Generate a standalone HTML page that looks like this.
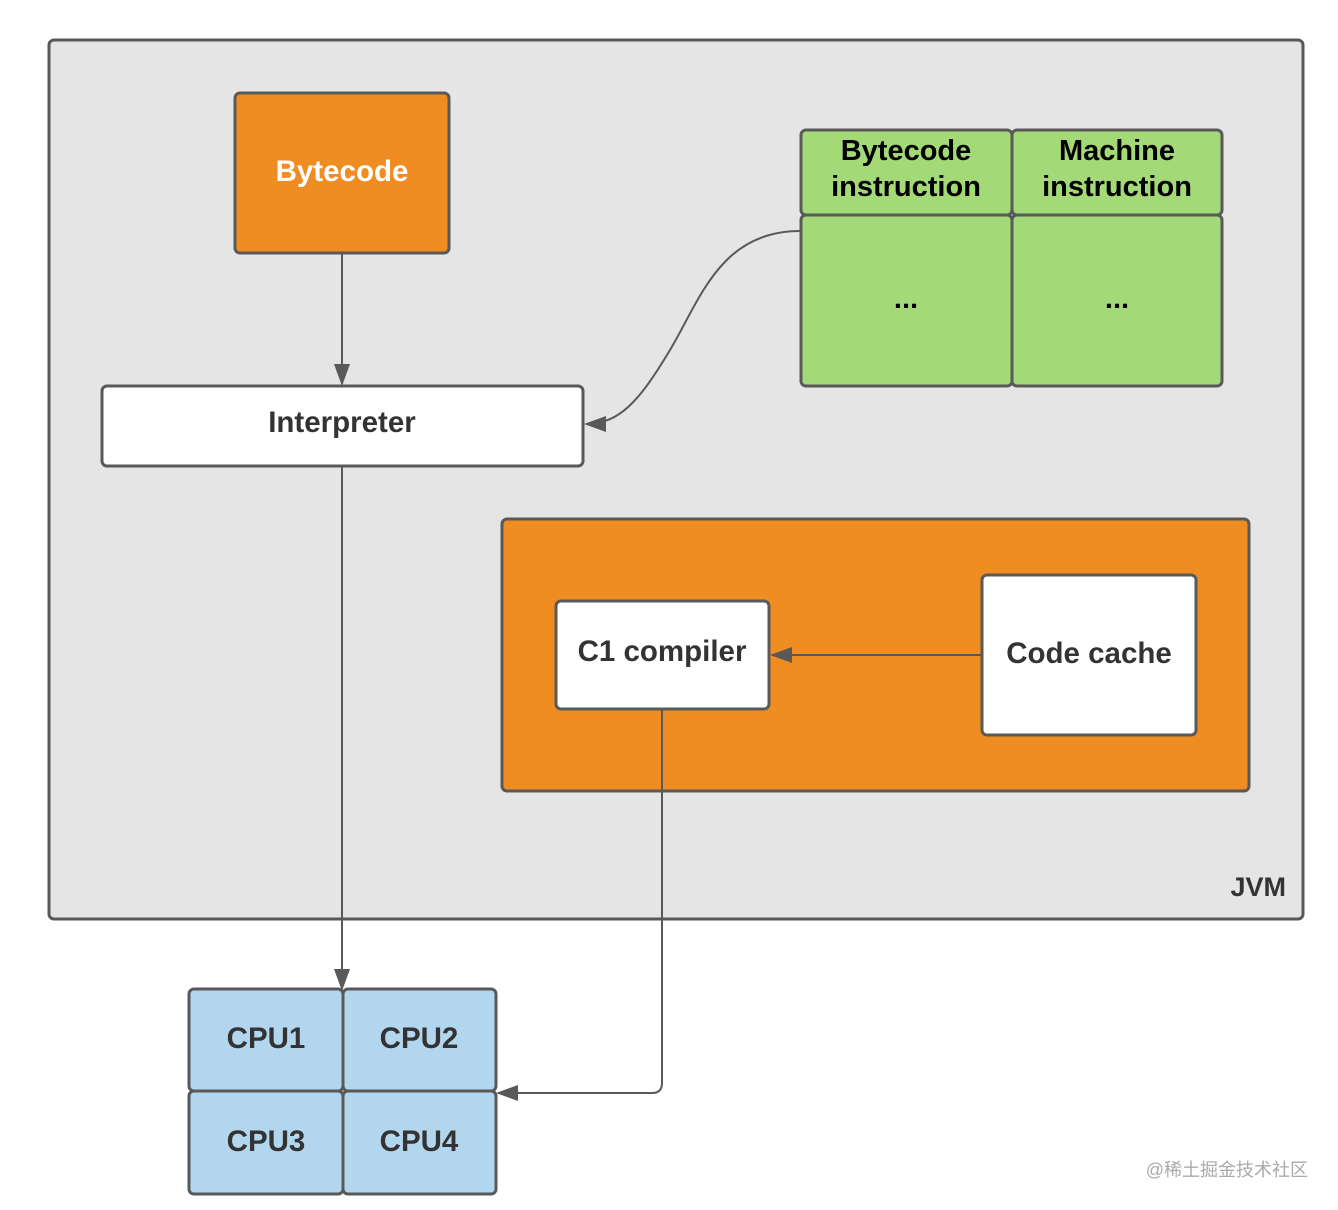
<!DOCTYPE html>
<html><head><meta charset="utf-8"><style>body{margin:0;background:#fff}svg{display:block}text{font-family:"Liberation Sans",sans-serif;font-weight:bold}</style></head><body>
<svg width="1338" height="1210" viewBox="0 0 1338 1210" xmlns="http://www.w3.org/2000/svg">
<defs><marker id="b" markerWidth="22" markerHeight="16" refX="20" refY="8" orient="auto" markerUnits="userSpaceOnUse"><path d="M0,0 L22,8 L0,16 z" fill="#595959"/></marker></defs>
<rect x="49" y="40" width="1254" height="879" rx="5" fill="#e5e5e5" stroke="#595959" stroke-width="3"/>
<text x="1286" y="896" font-size="27" text-anchor="end" fill="#333">JVM</text>
<rect x="235" y="93" width="214" height="160" rx="5" fill="#ef8d22" stroke="#595959" stroke-width="3"/>
<text x="342" y="181" font-size="29.5" text-anchor="middle" fill="#fff">Bytecode</text>
<rect x="102" y="386" width="481" height="80" rx="5" fill="#fff" stroke="#595959" stroke-width="3"/>
<text x="342" y="432" font-size="29.5" text-anchor="middle" fill="#333">Interpreter</text>
<rect x="801" y="130" width="211" height="85" rx="5" fill="#a3d977" stroke="#595959" stroke-width="3"/>
<rect x="1012" y="130" width="210" height="85" rx="5" fill="#a3d977" stroke="#595959" stroke-width="3"/>
<rect x="801" y="215" width="211" height="171" rx="5" fill="#a3d977" stroke="#595959" stroke-width="3"/>
<rect x="1012" y="215" width="210" height="171" rx="5" fill="#a3d977" stroke="#595959" stroke-width="3"/>
<text font-size="29" text-anchor="middle" fill="#000"><tspan x="906" y="160">Bytecode</tspan><tspan x="906" y="196">instruction</tspan><tspan x="1117" y="160">Machine</tspan><tspan x="1117" y="196">instruction</tspan><tspan x="906" y="308">...</tspan><tspan x="1117" y="308">...</tspan></text>
<rect x="502" y="519" width="747" height="272" rx="5" fill="#ef8d22" stroke="#595959" stroke-width="3"/>
<rect x="556" y="601" width="213" height="108" rx="5" fill="#fff" stroke="#595959" stroke-width="3"/>
<text x="662" y="661" font-size="29.5" text-anchor="middle" fill="#333">C1 compiler</text>
<rect x="982" y="575" width="214" height="160" rx="5" fill="#fff" stroke="#595959" stroke-width="3"/>
<text x="1089" y="663" font-size="29.5" text-anchor="middle" fill="#333">Code cache</text>
<g fill="#b3d6ef" stroke="#595959" stroke-width="3">
<rect x="189" y="989" width="154" height="102" rx="5"/><rect x="343" y="989" width="153" height="102" rx="5"/>
<rect x="189" y="1091" width="154" height="103" rx="5"/><rect x="343" y="1091" width="153" height="103" rx="5"/></g>
<text font-size="29.5" text-anchor="middle" fill="#333"><tspan x="266" y="1048">CPU1</tspan><tspan x="419" y="1048">CPU2</tspan><tspan x="266" y="1151">CPU3</tspan><tspan x="419" y="1151">CPU4</tspan></text>
<g fill="none" stroke="#595959" stroke-width="2">
<path d="M342,254 V384" marker-end="url(#b)"/>
<path d="M342,467 V989" marker-end="url(#b)"/>
<path d="M800,231 C720,231 700,300 670,350 C640,400 620,424 586,424" marker-end="url(#b)"/>
<path d="M981,655 H772" marker-end="url(#b)"/>
<path d="M662,710 V1083 Q662,1093 652,1093 H498" marker-end="url(#b)"/>
</g>
<text x="1308" y="1176" font-size="18" text-anchor="end" fill="#aaa" style="font-family:'Liberation Sans','Noto Sans CJK SC',sans-serif;font-weight:normal">@稀土掘金技术社区</text>
</svg></body></html>
